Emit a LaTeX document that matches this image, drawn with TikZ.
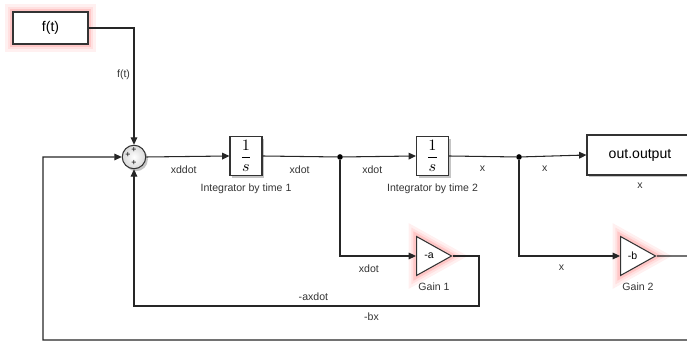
\documentclass[tikz,border=0pt]{standalone}
\usepackage{fontspec}
\setmainfont{Liberation Sans}
\usetikzlibrary{shapes.geometric, arrows.meta, positioning, shadows}

\begin{document}
\begin{tikzpicture}[
    x=0.02cm, y=-0.02cm,
    node distance=3pt,
    % Style definitions
    block/.style={rectangle, draw=black!80, fill=white, line width=0.6pt, text centered,
                  font=\fontsize{8}{9}\selectfont},
    shade/.style={drop shadow={shadow xshift=1.2pt, shadow yshift=-1.4pt, fill=black!45, opacity=0.5}},
    glow/.style={preaction={draw=red!6, line width=9pt},
                 preaction={draw=red!12, line width=6pt},
                 preaction={draw=red!22, line width=3.5pt}},
    integ/.style={block, shade, minimum width=0.64cm, minimum height=0.78cm, inner sep=0pt,
                  font=\fontsize{9.5}{11}\selectfont},
    gain/.style={isosceles triangle, isosceles triangle stretches, shape border rotate=0,
                 minimum width=0.78cm, minimum height=0.7cm, inner sep=0pt, draw=black!80,
                 fill=white, line width=0.6pt, font=\fontsize{6}{7}\selectfont, anchor=west},
    sum/.style={circle, draw=black!80, line width=0.6pt, minimum size=0.47cm, inner sep=0pt,
                inner color=white, outer color=gray!30, shade},
    plus/.style={inner sep=0pt, font=\fontsize{5}{5}\selectfont},
    dot/.style={circle, fill=black, minimum size=3.2pt, inner sep=0pt},
    lbl/.style={font=\fontsize{6}{7}\selectfont, text=black!80, inner sep=1pt},
    arrow/.style={-{Triangle[length=4.2pt, width=3.8pt]}, line width=0.6pt, draw=black!85},
    wire/.style={line width=0.6pt, draw=black!85},
]
\useasboundingbox (0,0) rectangle (687,357);
\clip (0,0) rectangle (687,357);

% Blocks
\node[block, glow, minimum width=1.5cm, minimum height=0.64cm] (ft) at (50.5,28) {f(t)};
\node[sum] (sum) at (134,157) {};
\node[plus] (pa) at (134,150) {+};
\node[plus] (pb) at (128,155) {+};
\node[plus] (pc) at (134,163) {+};

\node[integ] (int1) at (246,156) {$\displaystyle\frac{1}{s}$};
\node[lbl, below=3pt of int1] (lint1) {Integrator by time 1};
\node[integ] (int2) at (432.5,156) {$\displaystyle\frac{1}{s}$};
\node[lbl, below=3pt of int2] (lint2) {Integrator by time 2};

\node[block, shade, minimum width=2.12cm, minimum height=0.8cm] (out) at (640,155) {out.output};
\node[lbl, below=3pt of out] (lout) {x};

\node[gain, glow] (g1) at (416,256) {\,-a};
\node[lbl] (lg1) at (434,287) {Gain 1};
\node[gain, glow] (g2) at (620,256) {\,-b};
\node[lbl] (lg2) at (638,287) {Gain 2};

% Branch points and corners
\node[dot] (d1) at (340,157) {};
\node[dot] (d2) at (519,157) {};
\coordinate (c1) at (479,306);
\coordinate (rt) at (700,256);
\coordinate (bl) at (43,340);

% Arrows
\draw[arrow] (ft.east) -| node[lbl, left=1pt, pos=0.7] {f(t)} (sum.north);
\draw[arrow] (sum.east) -- node[lbl, below=4pt, pos=0.45] {xddot} (int1.west);
\draw[wire] (int1.east) -- node[lbl, below=4pt] {xdot} (d1);
\draw[arrow] (d1) -- node[lbl, below=4pt, pos=0.4] {xdot} (int2.west);
\draw[wire] (int2.east) -- node[lbl, below=4pt] {x} (d2);
\draw[arrow] (d2) -- node[lbl, below=4pt, pos=0.35] {x} (out.west);
\draw[arrow] (d1) |- node[lbl, below=4pt, pos=0.69] {xdot} (g1.west);
\draw[arrow] (d2) |- node[lbl, below=4pt, pos=0.71] {x} (g2.west);
\draw[arrow] (g1.east) -| (c1) -| node[lbl, above=2pt, pos=0.24] {-axdot} (sum.south);
\draw[arrow] (g2.east) -- (rt) |- node[lbl, above=10pt, pos=0.75] {-bx} (bl) |- (sum.west);

\end{tikzpicture}
\end{document}
